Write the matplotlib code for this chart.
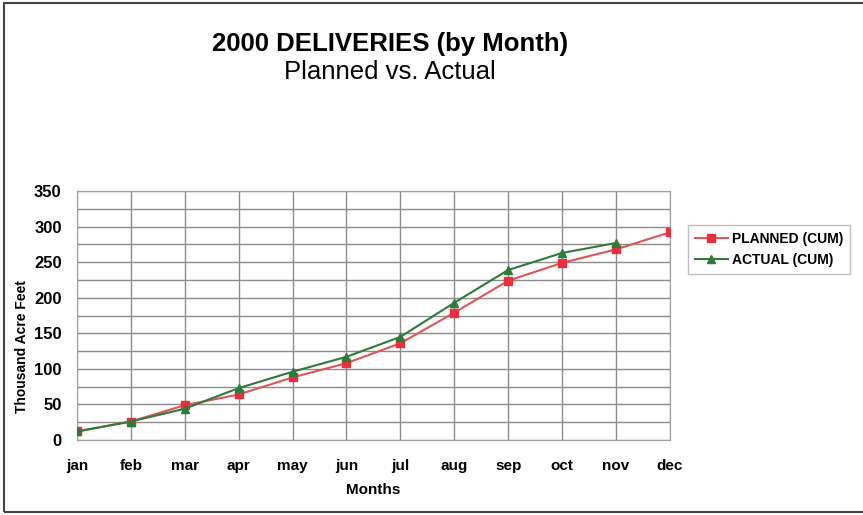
import matplotlib.pyplot as plt
from matplotlib.patches import Rectangle

plt.rcParams['font.family'] = ['Liberation Sans', 'DejaVu Sans']

months = ['jan', 'feb', 'mar', 'apr', 'may', 'jun', 'jul', 'aug', 'sep', 'oct', 'nov', 'dec']
planned = [12, 26, 49, 64, 88, 108, 136, 179, 224, 249, 268, 292]
actual = [12, 26, 44, 73, 96, 117, 145, 193, 239, 263, 277]

fig = plt.figure(figsize=(8.63, 5.15), dpi=100)
ax = fig.add_axes([0.0892, 0.1456, 0.687, 0.4834])

x = list(range(len(months)))
ax.plot(x, planned, color='#e0555a', lw=1.5, marker='s', ms=6,
        mfc='#ec2f3c', mec='#ec2f3c', label='PLANNED (CUM)', zorder=3)
ax.plot(x[:len(actual)], actual, color='#2f7a3a', lw=1.5, marker='^', ms=6,
        mfc='#2f7a3a', mec='#2f7a3a', label='ACTUAL (CUM)', zorder=4)

ax.set_xlim(0, 11)
ax.set_ylim(0, 350)
ax.set_xticks(x)
ax.set_xticklabels(months, fontsize=11, fontweight='bold')
ax.set_yticks(range(0, 351, 50))
ax.set_yticklabels([str(v) for v in range(0, 351, 50)], fontsize=12, fontweight='bold')
ax.set_yticks(range(0, 351, 25), minor=True)
ax.tick_params(axis='x', which='both', length=0, pad=14)
ax.tick_params(axis='y', which='both', length=0, pad=11)
ax.grid(True, which='both', color='#8c8c8c', lw=1)
for s in ax.spines.values():
    s.set_color('#a0a0a0')
ax.set_axisbelow(True)

ax.set_xlabel('Months', fontsize=11, fontweight='bold', labelpad=7)
fig.text(0.026, 0.328, 'Thousand Acre Feet', rotation=90, fontsize=10,
         fontweight='bold', ha='center', va='center')

fig.text(0.452, 0.914, '2000 DELIVERIES (by Month)', fontsize=18.5,
         fontweight='bold', ha='center', va='center')
fig.text(0.452, 0.860, 'Planned vs. Actual', fontsize=18.5, ha='center', va='center')

ax.legend(loc='upper left', bbox_to_anchor=(1.03, 0.863),
          prop={'weight': 'bold', 'size': 10},
          frameon=True, fancybox=False, edgecolor='#b0b0b0', borderpad=0.5,
          handlelength=2.4, handletextpad=0.3, labelspacing=0.5, borderaxespad=0)

fig.patches.append(Rectangle((0.005, 0.006), 1.2, 0.988, transform=fig.transFigure,
                             fill=False, edgecolor='#444444', lw=1.5, clip_on=False))

fig.savefig('out.png', dpi=100)
